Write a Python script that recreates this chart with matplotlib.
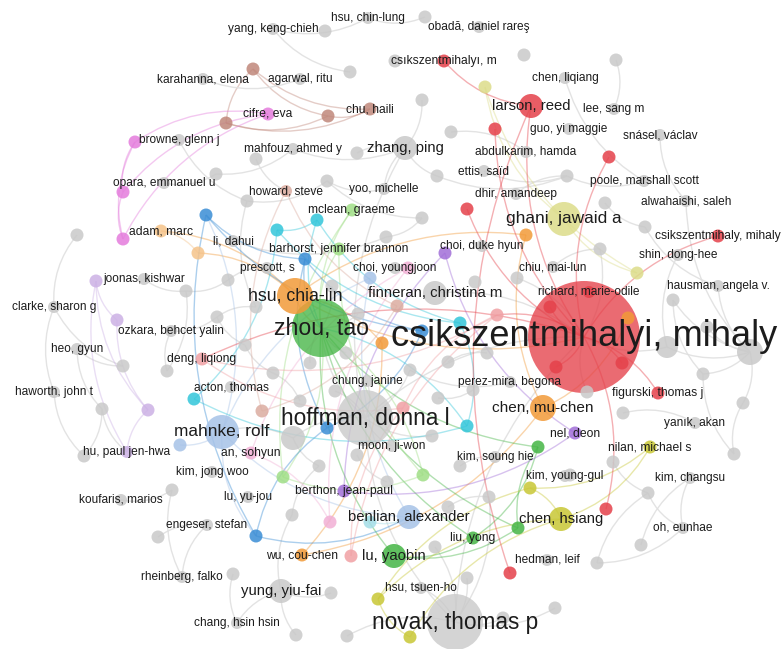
import matplotlib
matplotlib.use("Agg")
import matplotlib.pyplot as plt
from matplotlib.patches import Circle, PathPatch
from matplotlib.path import Path
import numpy as np

# ---------------- labeled nodes ----------------
lab_names = [
    "yang, keng-chieh", "hsu, chin-lung", "obadă, daniel rareş", "karahanna, elena", "agarwal, ritu",
    "chu, haili", "cifre, eva", "browne, glenn j", "mahfouz, ahmed y", "zhang, ping",
    "opara, emmanuel u", "howard, steve", "yoo, michelle", "mclean, graeme", "csıkszentmihalyı, m",
    "chen, liqiang", "larson, reed", "lee, sang m", "guo, yi maggie", "snásel, václav",
    "abdulkarim, hamda", "ettis, saïd", "poole, marshall scott", "dhir, amandeep", "alwahaishi, saleh",
    "ghani, jawaid a", "csikszentmihaly, mihaly", "adam, marc", "li, dahui", "barhorst, jennifer brannon",
    "choi, duke hyun", "shin, dong-hee", "prescott, s", "choi, youngjoon", "chiu, mai-lun",
    "joonas, kishwar", "hausman, angela v.", "hsu, chia-lin", "finneran, christina m", "richard, marie-odile",
    "clarke, sharon g", "zhou, tao", "ozkara, behcet yalin", "csikszentmihalyi, mihaly", "heo, gyun",
    "deng, liqiong", "chung, janine", "perez-mira, begona", "acton, thomas", "haworth, john t",
    "figurski, thomas j", "chen, mu-chen", "hoffman, donna l", "mahnke, rolf", "yanık, akan",
    "nel, deon", "moon, ji-won", "nilan, michael s", "hu, paul jen-hwa", "an, sohyun",
    "kim, soung hie", "kim, jong woo", "kim, young-gul", "kim, changsu", "berthon, jean-paul",
    "lu, yu-jou", "koufaris, marios", "benlian, alexander", "chen, hsiang", "engeser, stefan",
    "oh, eunhae", "liu, yong", "wu, cou-chen", "lu, yaobin", "hedman, leif",
    "rheinberg, falko", "hsu, tsuen-ho", "yung, yiu-fai", "novak, thomas p", "chang, hsin hsin",
]
lab_x = [273, 368, 479, 203, 300, 370, 268, 179, 293, 405,
         164, 286, 384, 352, 444, 565, 531, 614, 569, 660,
         526, 484, 644, 516, 686, 564, 718, 161, 233, 339,
         482, 678, 267, 395, 553, 144, 718, 295, 435, 589,
         54, 321, 171, 584, 77, 202, 367, 510, 231, 54,
         658, 543, 365, 222, 695, 575, 392, 650, 127, 251,
         495, 212, 565, 690, 344, 248, 121, 409, 561, 207,
         683, 473, 302, 394, 547, 182, 421, 281, 455, 237]
lab_y = [29, 18, 27, 79, 79, 109, 114, 140, 149, 148,
         183, 191, 189, 210, 61, 78, 106, 109, 129, 135,
         152, 171, 181, 194, 201, 219, 236, 231, 241, 249,
         246, 255, 268, 268, 267, 279, 286, 296, 293, 292,
         307, 328, 331, 337, 349, 359, 381, 382, 387, 392,
         393, 408, 418, 432, 423, 433, 446, 447, 452, 453,
         457, 472, 476, 478, 491, 497, 500, 517, 519, 525,
         528, 538, 555, 556, 560, 577, 588, 591, 622, 623]
lab_weight = [6, 6, 6, 6, 6, 6.5, 6.5, 6, 6, 12,
              6, 6, 6, 6.5, 6.5, 6, 12, 6, 6, 6,
              6, 6, 6, 6, 6, 17, 6.5, 6.5, 6, 6.5,
              6, 6, 6, 6, 6, 6, 6, 18, 12, 6,
              6, 29, 6, 56, 6, 6.5, 6, 6, 6, 6,
              6.5, 13, 28, 17, 6, 6.5, 6, 6.5, 6, 6.5,
              6, 6, 6, 6, 6.5, 6, 6, 12, 12, 6,
              6, 6.5, 6.5, 12, 6, 6, 6, 12, 28, 6]
lab_cluster = ["gray", "gray", "gray", "gray", "gray", "brown", "magenta", "gray", "gray", "gray",
               "gray", "lbrown", "gray", "lgreen", "red", "gray", "red", "gray", "gray", "gray",
               "gray", "gray", "gray", "gray", "gray", "lyellow", "red", "lorange", "gray", "lgreen",
               "gray", "gray", "gray", "gray", "gray", "gray", "gray", "orange", "gray", "red",
               "gray", "green", "gray", "red", "gray", "lred", "gray", "gray", "gray", "gray",
               "red", "orange", "gray", "lblue", "gray", "purple", "gray", "yellow", "lpurple", "pink",
               "gray", "gray", "gray", "gray", "purple", "gray", "gray", "lblue", "yellow", "gray",
               "gray", "green", "orange", "green", "gray", "gray", "gray", "gray", "gray", "gray"]

# ---------------- unlabeled nodes ----------------
dot_keys = ["r1", "r2", "r3", "r4", "r5", "r6", "r7", "r8",
            "b1", "b2", "b3", "m1", "m2", "m3", "lb1", "lb2", "ly1", "ly2",
            "o1", "o2", "o3", "lo1", "bl1", "bl2", "bl3", "bl4", "bl5",
            "c1", "c2", "c3", "c4", "c5", "lc1", "lg1", "lg2", "gr1", "gr2",
            "p1", "lp1", "lp2", "lp3", "lbl1", "lbl2", "pk1", "pk2",
            "lr1", "lr2", "lr3", "y1", "y2", "y3"]
dot_x = [495, 609, 467, 550, 556, 622, 606, 510,
         253, 328, 226, 135, 123, 123, 397, 262, 485, 637,
         526, 628, 382, 198, 206, 305, 422, 327, 256,
         277, 317, 460, 194, 467, 370, 283, 423, 538, 518,
         445, 96, 117, 148, 370, 180, 408, 330,
         497, 403, 351, 530, 378, 410]
dot_y = [129, 157, 209, 307, 367, 363, 509, 573,
         69, 116, 123, 142, 192, 239, 306, 411, 87, 273,
         235, 318, 343, 253, 215, 259, 331, 428, 536,
         230, 220, 323, 399, 426, 522, 477, 475, 447, 528,
         253, 281, 320, 410, 278, 445, 268, 522,
         315, 408, 556, 488, 599, 637]
dot_cluster = ["red"] * 8 + ["brown"] * 3 + ["magenta"] * 3 + ["lbrown"] * 2 + ["lyellow"] * 2 + \
              ["orange"] * 3 + ["lorange"] + ["blue"] * 5 + ["cyan"] * 5 + ["lcyan"] + ["lgreen"] * 2 + \
              ["green"] * 2 + ["purple"] + ["lpurple"] * 3 + ["lblue"] * 2 + ["pink"] * 2 + \
              ["lred"] * 3 + ["yellow"] * 3

gray_x = [325, 425, 395, 350, 524, 616, 422, 451, 256, 357, 216, 247, 327, 437, 567, 605, 422, 645, 600, 77,
          186, 228, 386, 256, 358, 217, 332, 475, 517, 673, 667, 750, 707, 703, 743, 623, 245, 310, 346, 273,
          410, 448, 487, 123, 167, 335, 300, 102, 438, 473, 587, 293, 432, 357, 84, 319, 460, 387, 172, 613,
          734, 570, 648, 489, 448, 292, 158, 435, 641, 597, 467, 233, 331, 555, 503, 296, 347]
gray_y = [31, 17, 61, 72, 55, 60, 100, 132, 159, 153, 174, 201, 181, 176, 176, 203, 218, 227, 249, 235,
          291, 280, 237, 307, 314, 317, 286, 282, 278, 300, 347, 352, 327, 374, 403, 413, 345, 363, 353, 373,
          370, 362, 353, 366, 371, 391, 401, 409, 398, 390, 392, 438, 436, 455, 456, 466, 466, 482, 490, 462,
          454, 475, 493, 497, 507, 515, 537, 547, 545, 563, 578, 574, 593, 608, 618, 635, 636]
gray_weight = {"g31": 11, "g32": 13, "g52": 12}

# ---------------- links ----------------
edges = [
    ("b1", "b2"), ("b1", "b3"), ("b1", "chu, haili"), ("b2", "chu, haili"), ("b3", "chu, haili"), ("b3", "b2"),
    ("cifre, eva", "m1"), ("cifre, eva", "m2"), ("cifre, eva", "m3"), ("m1", "m2"), ("m1", "m3"), ("m2", "m3"),
    ("yang, keng-chieh", "g4"), ("yang, keng-chieh", "hsu, chin-lung"), ("hsu, chin-lung", "g2"),
    ("karahanna, elena", "agarwal, ritu"), ("browne, glenn j", "g12"), ("opara, emmanuel u", "g11"),
    ("g11", "mahfouz, ahmed y"), ("g9", "howard, steve"), ("mahfouz, ahmed y", "zhang, ping"),
    ("zhang, ping", "g10"), ("zhang, ping", "yoo, michelle"), ("zhang, ping", "g7"),
    ("zhang, ping", "hoffman, donna l"), ("zhang, ping", "g14"), ("g12", "g13"), ("g13", "yoo, michelle"),
    ("g13", "g17"), ("g12", "g24"), ("chen, liqiang", "poole, marshall scott"),
    ("snásel, václav", "alwahaishi, saleh"), ("lee, sang m", "g6"), ("g14", "g15"), ("ettis, saïd", "g15"),
    ("g15", "dhir, amandeep"), ("g15", "poole, marshall scott"), ("abdulkarim, hamda", "g8"),
    ("g16", "g18"), ("g18", "hausman, angela v."), ("g19", "chiu, mai-lun"),
    ("g30", "g32"), ("g31", "g32"), ("g33", "g32"), ("g34", "g32"), ("g30", "g34"),
    ("hausman, angela v.", "g32"), ("shin, dong-hee", "g31"), ("g35", "g32"), ("g34", "g61"),
    ("alwahaishi, saleh", "g32"),
    ("csikszentmihalyi, mihaly", "g31"), ("csikszentmihalyi, mihaly", "g29"),
    ("csikszentmihalyi, mihaly", "g19"), ("csikszentmihalyi, mihaly", "hoffman, donna l"),
    ("csikszentmihalyi, mihaly", "finneran, christina m"), ("csikszentmihalyi, mihaly", "g51"),
    ("csikszentmihalyi, mihaly", "novak, thomas p"),
    ("g20", "clarke, sharon g"), ("clarke, sharon g", "haworth, john t"), ("heo, gyun", "g48"),
    ("clarke, sharon g", "g44"), ("heo, gyun", "g44"), ("g45", "g21"), ("joonas, kishwar", "g21"),
    ("ozkara, behcet yalin", "g45"), ("haworth, john t", "g55"), ("g48", "hu, paul jen-hwa"),
    ("g55", "g48"),
    ("zhou, tao", "hoffman, donna l"), ("zhou, tao", "g38"), ("zhou, tao", "g39"), ("zhou, tao", "g27"),
    ("zhou, tao", "g25"), ("hoffman, donna l", "g46"), ("hoffman, donna l", "g53"),
    ("hoffman, donna l", "g52"), ("hoffman, donna l", "moon, ji-won"), ("hoffman, donna l", "novak, thomas p"),
    ("hoffman, donna l", "g41"), ("hoffman, donna l", "chung, janine"), ("g52", "mahnke, rolf"),
    ("g52", "g56"), ("g47", "g40"), ("g54", "g58"), ("g56", "g66"), ("g66", "yung, yiu-fai"),
    ("yung, yiu-fai", "chang, hsin hsin"), ("yung, yiu-fai", "g73"), ("yung, yiu-fai", "g76"),
    ("g72", "chang, hsin hsin"), ("g59", "rheinberg, falko"), ("koufaris, marios", "g59"),
    ("engeser, stefan", "g67"), ("engeser, stefan", "rheinberg, falko"),
    ("novak, thomas p", "g74"), ("novak, thomas p", "g75"), ("novak, thomas p", "hsu, tsuen-ho"),
    ("novak, thomas p", "g71"), ("novak, thomas p", "g77"), ("novak, thomas p", "g68"),
    ("novak, thomas p", "g64"), ("g62", "kim, young-gul"), ("kim, soung hie", "g57"), ("g64", "g65"),
    ("g60", "g63"), ("kim, changsu", "g69"), ("g63", "oh, eunhae"), ("g70", "oh, eunhae"),
    ("g63", "g70"), ("kim, changsu", "oh, eunhae"), ("g35", "g61"), ("yanık, akan", "g36"),
    ("g49", "g50"), ("g43", "g42"), ("g41", "perez-mira, begona"), ("prescott, s", "g22"),
    ("li, dahui", "g23"), ("g23", "g17"), ("g24", "g26"), ("g26", "g37"), ("g37", "g40"),
    ("ozkara, behcet yalin", "g26"), ("g21", "g22"),
    ("hsu, chia-lin", "adam, marc"), ("lo1", "adam, marc"), ("hsu, chia-lin", "lo1"),
    ("hsu, chia-lin", "csikszentmihalyi, mihaly"), ("o1", "chen, mu-chen"), ("o1", "hsu, chia-lin"),
    ("o3", "hsu, chia-lin"), ("wu, cou-chen", "chen, mu-chen"), ("wu, cou-chen", "o3"),
    ("chen, mu-chen", "o2"), ("hsu, chia-lin", "zhou, tao"),
    ("zhou, tao", "lu, yaobin"), ("zhou, tao", "liu, yong"), ("zhou, tao", "gr1"), ("zhou, tao", "gr2"),
    ("lu, yaobin", "gr2"), ("liu, yong", "gr1"), ("gr1", "gr2"), ("lu, yaobin", "liu, yong"),
    ("mclean, graeme", "zhou, tao"), ("barhorst, jennifer brannon", "zhou, tao"),
    ("barhorst, jennifer brannon", "lg2"), ("mclean, graeme", "lg1"), ("lg1", "zhou, tao"),
    ("lg2", "zhou, tao"), ("lg1", "lg2"),
    ("bl1", "bl2"), ("bl1", "bl3"), ("bl1", "bl5"), ("bl2", "bl3"), ("bl2", "zhou, tao"), ("bl4", "bl5"),
    ("bl5", "benlian, alexander"), ("bl4", "bl3"), ("bl2", "bl4"),
    ("mahnke, rolf", "bl5"), ("mahnke, rolf", "bl1"), ("lbl2", "mahnke, rolf"),
    ("lbl1", "benlian, alexander"), ("lbl1", "mahnke, rolf"), ("mahnke, rolf", "benlian, alexander"),
    ("c1", "c2"), ("c2", "zhou, tao"), ("c1", "c3"), ("c4", "c1"), ("c5", "c3"), ("c5", "zhou, tao"),
    ("c2", "c3"), ("c4", "c5"), ("lc1", "benlian, alexander"),
    ("p1", "nel, deon"), ("berthon, jean-paul", "nel, deon"), ("p1", "berthon, jean-paul"),
    ("lp1", "lp2"), ("lp2", "lp3"), ("lp3", "hu, paul jen-hwa"), ("lp1", "lp3"), ("lp1", "hu, paul jen-hwa"),
    ("chen, hsiang", "y1"), ("chen, hsiang", "nilan, michael s"), ("y1", "nilan, michael s"),
    ("chen, hsiang", "y2"), ("y2", "y3"), ("chen, hsiang", "y3"), ("y1", "y2"),
    ("ly1", "ghani, jawaid a"), ("ghani, jawaid a", "ly2"), ("ly1", "ly2"),
    ("pk1", "an, sohyun"), ("pk2", "an, sohyun"), ("pk1", "pk2"),
    ("deng, liqiong", "lr2"), ("deng, liqiong", "lr1"), ("lr1", "lr3"), ("lr2", "lr3"), ("lr1", "lr2"),
    ("howard, steve", "lb1"), ("lb2", "lb1"), ("howard, steve", "lb2"),
    ("csıkszentmihalyı, m", "larson, reed"), ("larson, reed", "csikszentmihalyi, mihaly"),
    ("larson, reed", "r8"), ("r1", "csikszentmihalyi, mihaly"), ("r2", "csikszentmihalyi, mihaly"),
    ("r3", "csikszentmihalyi, mihaly"), ("csikszentmihaly, mihaly", "csikszentmihalyi, mihaly"),
    ("figurski, thomas j", "csikszentmihalyi, mihaly"), ("r7", "csikszentmihalyi, mihaly"),
    ("r4", "csikszentmihalyi, mihaly"), ("r5", "csikszentmihalyi, mihaly"), ("r6", "csikszentmihalyi, mihaly"),
    ("csikszentmihalyi, mihaly", "lr1"), ("csikszentmihalyi, mihaly", "deng, liqiong"),
]

# ---------------- styles ----------------
palette = {
    "gray": "#c9c9c9", "red": "#e5414a", "green": "#45b545", "orange": "#f29a38",
    "yellow": "#c8c735", "lyellow": "#dcdc8a", "lblue": "#a6c2e7", "blue": "#3a8dd5",
    "cyan": "#33c6da", "lcyan": "#a4dde7", "brown": "#c0877a", "lbrown": "#dbaca0",
    "magenta": "#e47cdc", "lgreen": "#a0de86", "purple": "#a16ed8", "lpurple": "#ccb1e5",
    "pink": "#f1b0d5", "lred": "#f0a0a4", "lorange": "#f5c38a",
}

nodes = {}
for n, x, y, w, c in zip(lab_names, lab_x, lab_y, lab_weight, lab_cluster):
    nodes[n] = (x, y, w, c, True)
for k, x, y, c in zip(dot_keys, dot_x, dot_y, dot_cluster):
    nodes[k] = (x, y, 6.5, c, False)
for i, (x, y) in enumerate(zip(gray_x, gray_y)):
    k = "g%d" % (i + 1)
    nodes[k] = (x, y, gray_weight.get(k, 6.5), "gray", False)

fig = plt.figure(figsize=(7.83, 6.49), dpi=100)
ax = fig.add_axes([0, 0, 1, 1])
ax.set_xlim(0, 783)
ax.set_ylim(649, 0)
ax.axis("off")

# edges: curved (quadratic bezier)
for a, b in edges:
    xa, ya, _, ca, _ = nodes[a]
    xb, yb, _, cb, _ = nodes[b]
    p0 = np.array([xa, ya], float)
    p1 = np.array([xb, yb], float)
    d = p1 - p0
    ctrl = (p0 + p1) / 2 + 0.2 * np.array([-d[1], d[0]])
    if ca == "gray" or cb == "gray":
        col, al = "#e0e0e0", 0.9
    else:
        col, al = palette[ca], 0.42
    path = Path([p0, ctrl, p1], [Path.MOVETO, Path.CURVE3, Path.CURVE3])
    ax.add_patch(PathPatch(path, fill=False, edgecolor=col, lw=1.0, alpha=al, zorder=1))

# nodes, largest first
order = sorted(nodes.keys(), key=lambda k: -nodes[k][2])
for k in order:
    x, y, w, c, _ = nodes[k]
    a = 0.78 if w > 20 else 0.85
    ax.add_patch(Circle((x, y), w, facecolor=palette[c], edgecolor="none", alpha=a, zorder=2))

# labels
for k in order[::-1]:
    x, y, w, c, lab = nodes[k]
    if not lab:
        continue
    fs = 8.6 + 0.35 * (w - 6)
    ax.text(x, y, k, ha="center", va="center", fontsize=fs, color="#1c1c1c",
            family=["Liberation Sans", "DejaVu Sans"], zorder=3)

fig.savefig("out.png", dpi=100, facecolor="white")
